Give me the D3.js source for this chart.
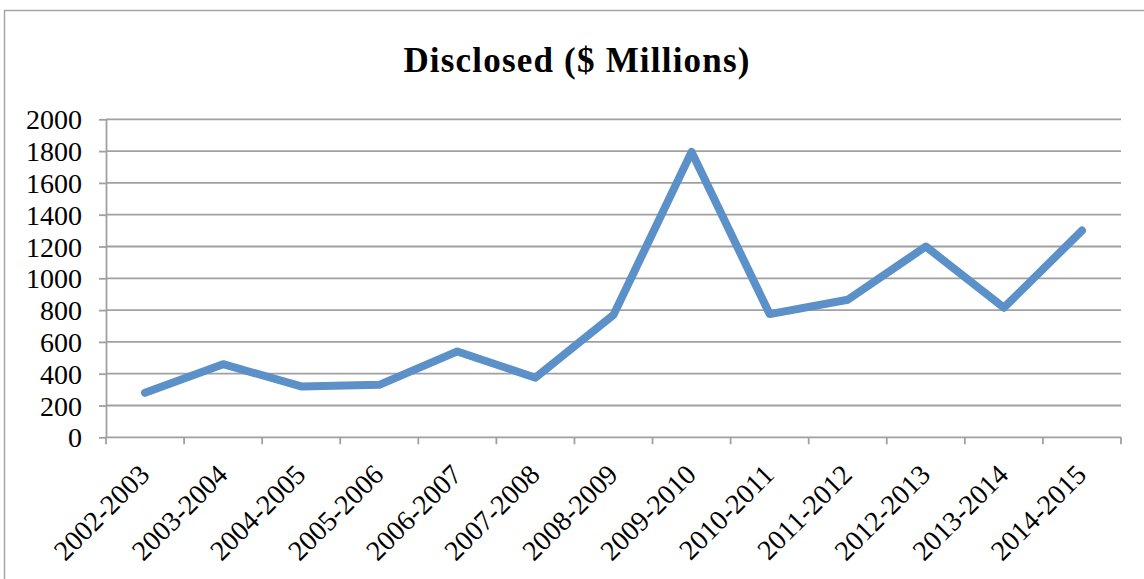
<!DOCTYPE html>
<html><head><meta charset="utf-8">
<script src="https://cdn.jsdelivr.net/npm/d3@7"></script>
<style>body{margin:0;background:#fff}svg{display:block}</style>
</head><body>
<script>
const categories = ["2002-2003","2003-2004","2004-2005","2005-2006","2006-2007","2007-2008","2008-2009","2009-2010","2010-2011","2011-2012","2012-2013","2013-2014","2014-2015"];
const values = [280, 460, 320, 330, 540, 375, 770, 1795, 775, 865, 1200, 815, 1300];
const yTicks = [0,200,400,600,800,1000,1200,1400,1600,1800,2000];
const title = "Disclosed ($ Millions)";

const W = 1144, H = 579;
const svg = d3.select("body").append("svg").attr("width", W).attr("height", H);
const m = {left:106, right:1121, top:119.3, bottom:437.3};

svg.append("path").attr("d", `M4.5,${H+5}V10.5H${W+5}`).attr("fill","none").attr("stroke","#a6a6a6").attr("stroke-width",1.5);

const x = d3.scaleBand().domain(categories).range([m.left, m.right]);
const y = d3.scaleLinear().domain([0,2000]).range([m.bottom, m.top]);

// gridlines
svg.append("g").selectAll("line").data(yTicks.filter(d=>d>0)).join("line")
  .attr("x1", m.left).attr("x2", m.right)
  .attr("y1", d=>y(d)).attr("y2", d=>y(d))
  .attr("stroke","#a0a0a0").attr("stroke-width",1.8);

// y axis
const ya = svg.append("g").attr("transform",`translate(${m.left},0)`)
  .call(d3.axisLeft(y).tickValues(yTicks).tickFormat(d3.format("d")).tickSize(7).tickPadding(17).tickSizeOuter(0));
ya.select(".domain").attr("stroke","#a0a0a0").attr("stroke-width",1.8);
ya.selectAll(".tick line").attr("stroke","#a0a0a0").attr("stroke-width",1.8);
ya.selectAll("text").attr("font-family","'Liberation Serif', serif").attr("font-size",28).attr("fill","#000").attr("dy","0.34em");

// x axis
const xa = svg.append("g").attr("transform",`translate(0,${m.bottom})`);
xa.append("line").attr("x1",m.left).attr("x2",m.right).attr("stroke","#a0a0a0").attr("stroke-width",1.8);
const bounds = categories.map(c=>x(c)).concat([m.right]);
xa.selectAll("line.t").data(bounds).join("line").attr("class","t")
  .attr("x1",d=>d).attr("x2",d=>d).attr("y1",0).attr("y2",7)
  .attr("stroke","#a0a0a0").attr("stroke-width",1.8);
xa.selectAll("text").data(categories).join("text")
  .attr("transform", d=>`translate(${x(d)+x.bandwidth()/2+6},${39}) rotate(-45)`)
  .attr("text-anchor","end")
  .attr("font-family","'Liberation Serif', serif").attr("font-size",28).attr("fill","#000")
  .text(d=>d);

// line
const line = d3.line().x((d,i)=>x(categories[i])+x.bandwidth()/2).y(d=>y(d));
svg.append("path").datum(values).attr("d", line)
  .attr("fill","none").attr("stroke","#5b90c8").attr("stroke-width",8)
  .attr("stroke-linejoin","round").attr("stroke-linecap","round");

svg.append("text").attr("x",577).attr("y",72).attr("text-anchor","middle")
  .attr("font-family","'Liberation Serif', serif").attr("font-weight","bold").attr("font-size",35)
  .attr("letter-spacing",1.2)
  .text(title);
</script>
</body></html>
